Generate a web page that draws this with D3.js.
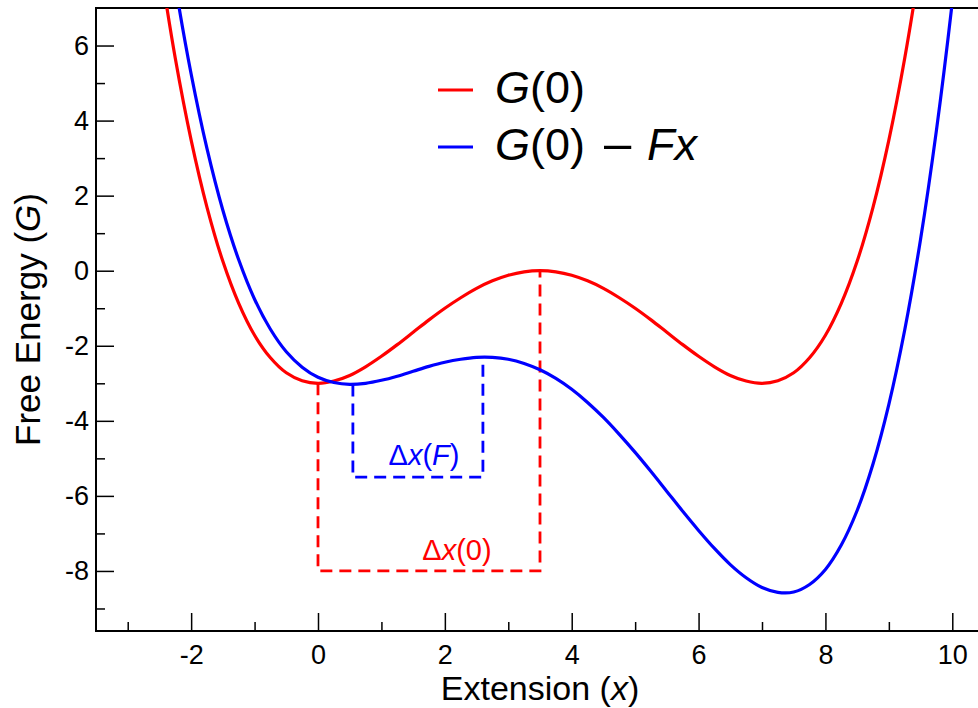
<!DOCTYPE html>
<html><head><meta charset="utf-8">
<script src="https://cdn.jsdelivr.net/npm/d3@7"></script>
<style>
body{margin:0;background:#fff}
svg{display:block;font-family:"Liberation Sans",Arial,Helvetica,sans-serif}
</style>
</head><body><svg id="chart" width="978" height="708"></svg>
<script>
// Extension values (x)
const xValues = [-2.5,-2.25,-2.0,-1.75,-1.5,-1.25,-1.0,-0.75,-0.5,-0.25,0,0.25,0.5,0.75,1.0,1.25,1.5,1.75,2.0,2.25,2.5,2.75,3.0,3.25,3.5,3.75,4.0,4.25,4.5,4.75,5.0,5.25,5.5,5.75,6.0,6.25,6.5,6.75,7.0,7.25,7.5,7.75,8.0,8.25,8.5,8.75,9.0,9.25,9.5,9.75,10.0,10.25];
// G(0) curve (red)
const gZero = [8.28,5.66,3.48,1.69,0.25,-0.87,-1.72,-2.32,-2.72,-2.93,-3.00,-2.94,-2.79,-2.56,-2.28,-1.97,-1.64,-1.31,-1.00,-0.72,-0.47,-0.27,-0.12,-0.03,0.00,-0.03,-0.12,-0.27,-0.47,-0.72,-1.00,-1.31,-1.64,-1.97,-2.28,-2.56,-2.79,-2.94,-3.00,-2.93,-2.72,-2.32,-1.72,-0.87,0.25,1.69,3.48,5.66,8.28,11.38,15.0,19.19];
// G(0) - Fx curve (blue)
const gTilted = [10.44,7.62,5.24,3.25,1.61,0.29,-0.76,-1.56,-2.16,-2.57,-2.84,-2.98,-3.03,-3.00,-2.92,-2.81,-2.68,-2.55,-2.44,-2.36,-2.31,-2.31,-2.36,-2.47,-2.64,-2.87,-3.16,-3.51,-3.91,-4.36,-4.84,-5.35,-5.88,-6.41,-6.92,-7.40,-7.83,-8.18,-8.44,-8.57,-8.56,-8.36,-7.96,-7.31,-6.39,-5.15,-3.56,-1.58,0.84,3.74,7.16,11.15];

const xTickValues = [-2,0,2,4,6,8,10];
const xMinorTicks = [-3,-1,1,3,5,7,9];
const yTickValues = [-8,-6,-4,-2,0,2,4,6];
const yMinorTicks = [-9,-7,-5,-3,-1,1,3,5];

// Annotation points: well / barrier / base level of the Δx brackets
const bracketG0 = [0, -3.0, 3.5, 0.0, -8.0];     // wellX, wellG, barrierX, barrierG, baseG
const bracketF  = [0.55, -3.03, 2.6, -2.29, -5.5];

const svg = d3.select("#chart");
const x = d3.scaleLinear().domain([-3.5, 10.5]).range([96, 984]);
const y = d3.scaleLinear().domain([-9.6, 7.0]).range([631, 8]);

svg.append("defs").append("clipPath").attr("id","plotclip")
  .append("rect").attr("x",x(-3.5)).attr("y",y(7)).attr("width",x(10.5)-x(-3.5)).attr("height",y(-9.6)-y(7));

// axes
const fontTick = 27;
const xAxis = svg.append("g").attr("transform",`translate(0,${y(-9.6)})`)
  .call(d3.axisBottom(x).tickValues(xTickValues).tickSizeInner(-18).tickSizeOuter(0).tickPadding(14).tickFormat(d3.format("d")));
const xAxisMinor = svg.append("g").attr("transform",`translate(0,${y(-9.6)})`)
  .call(d3.axisBottom(x).tickValues(xMinorTicks).tickSizeInner(-9).tickSizeOuter(0).tickFormat(""));
const yAxis = svg.append("g").attr("transform",`translate(${x(-3.5)},0)`)
  .call(d3.axisLeft(y).tickValues(yTickValues).tickSizeInner(-18).tickSizeOuter(0).tickPadding(7).tickFormat(d3.format("d")));
const yAxisMinor = svg.append("g").attr("transform",`translate(${x(-3.5)},0)`)
  .call(d3.axisLeft(y).tickValues(yMinorTicks).tickSizeInner(-9).tickSizeOuter(0).tickFormat(""));
[xAxis,xAxisMinor,yAxis,yAxisMinor].forEach(g=>{
  g.select(".domain").remove();
  g.selectAll(".tick line").attr("stroke","#000").attr("stroke-width",1.5);
  g.selectAll(".tick text").attr("font-size",fontTick).attr("fill","#000")
    .attr("font-family",'"Liberation Sans",Arial,Helvetica,sans-serif')
    .text(function(){return this.textContent.replace("\u2212","-");});
});

// frame
svg.append("rect").attr("x",x(-3.5)).attr("y",y(7)).attr("width",x(10.5)-x(-3.5)).attr("height",y(-9.6)-y(7))
  .attr("fill","none").attr("stroke","#000").attr("stroke-width",2);

// dashed brackets
function bracket(b, color){
  const [wx,wy,bx,by,base] = b;
  const pts = [[wx,wy],[wx,base],[bx,base],[bx,by]];
  svg.append("path")
    .attr("d", d3.line().x(d=>x(d[0])).y(d=>y(d[1]))(pts))
    .attr("fill","none").attr("stroke",color).attr("stroke-width",2.8)
    .attr("stroke-dasharray","12,7");
}
bracket(bracketG0, "#ff0000");
bracket(bracketF, "#0000ff");

// curves
const line = d3.line().x((d,i)=>x(xValues[i])).y(d=>y(d)).curve(d3.curveCatmullRom.alpha(0.5));
const curves = svg.append("g").attr("clip-path","url(#plotclip)");
curves.append("path").attr("d",line(gZero)).attr("fill","none").attr("stroke","#ff0000").attr("stroke-width",3.2).attr("stroke-linejoin","round");
curves.append("path").attr("d",line(gTilted)).attr("fill","none").attr("stroke","#0000ff").attr("stroke-width",3.2).attr("stroke-linejoin","round");

// Δ labels
const dF = svg.append("text").attr("x",424).attr("y",465).attr("text-anchor","middle").attr("font-size",29).attr("fill","#0000ff");
dF.append("tspan").text("Δ");
dF.append("tspan").attr("font-style","italic").text("x");
dF.append("tspan").text("(");
dF.append("tspan").attr("font-style","italic").text("F");
dF.append("tspan").text(")");
const d0 = svg.append("text").attr("x",457).attr("y",560).attr("text-anchor","middle").attr("font-size",29).attr("fill","#ff0000");
d0.append("tspan").text("Δ");
d0.append("tspan").attr("font-style","italic").text("x");
d0.append("tspan").text("(0)");

// legend
const legendColors = ["#ff0000","#0000ff"];
legendColors.forEach((c,i)=>{
  const ly = 90 + i*57;
  svg.append("line").attr("x1",438).attr("x2",473).attr("y1",ly).attr("y2",ly)
    .attr("stroke",c).attr("stroke-width",3.2);
  const t = svg.append("text").attr("x",495).attr("y",ly+13).attr("font-size",45).attr("fill","#000");
  t.append("tspan").attr("font-style","italic").text("G");
  t.append("tspan").text("(0)");
  if(i===1){
    t.append("tspan").attr("x",604).attr("font-size",49).text("\u2013");
    t.append("tspan").attr("x",647).attr("font-style","italic").text("Fx");
  }
});

// axis titles
const xt = svg.append("text").attr("x",540).attr("y",700).attr("text-anchor","middle").attr("font-size",34).attr("fill","#000");
xt.append("tspan").text("Extension (");
xt.append("tspan").attr("font-style","italic").text("x");
xt.append("tspan").text(")");
const yt = svg.append("text").attr("transform",`translate(40,${(y(7)+y(-9.6))/2}) rotate(-90)`).attr("text-anchor","middle").attr("font-size",35).attr("fill","#000");
yt.append("tspan").text("Free Energy (");
yt.append("tspan").attr("font-style","italic").text("G");
yt.append("tspan").text(")");
</script>
</body></html>
